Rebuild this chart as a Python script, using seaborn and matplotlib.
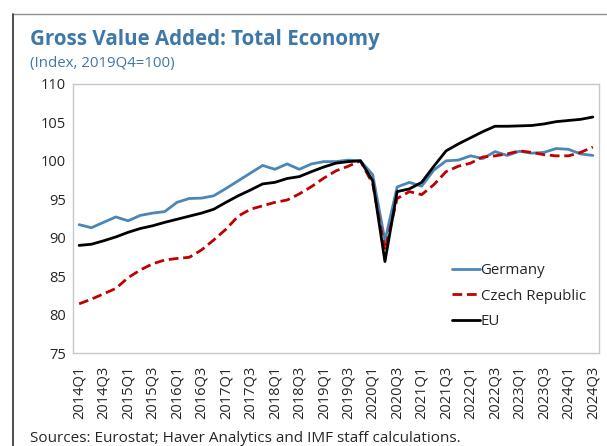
import pandas as pd
import seaborn as sns
import matplotlib.pyplot as plt
from matplotlib.lines import Line2D
from matplotlib.ticker import MultipleLocator

# Квартали 2014Q1 - 2024Q3
quarters = [f"{y}Q{q}" for y in range(2014, 2025) for q in range(1, 5)][:43]

germany = [91.7, 91.3, 92.0, 92.7, 92.2, 92.9, 93.2, 93.4, 94.6, 95.1, 95.15,
           95.45, 96.4, 97.4, 98.4, 99.4, 98.9, 99.6, 98.9, 99.6, 99.9, 99.9,
           100.1, 100.0, 98.2, 89.6, 96.6, 97.2, 96.7, 98.8, 100.0, 100.1,
           100.65, 100.3, 101.2, 100.7, 101.25, 101.0, 101.1, 101.6, 101.5,
           100.9, 100.7]
czech = [81.4, 82.0, 82.7, 83.4, 84.8, 85.8, 86.6, 87.1, 87.3, 87.45, 88.4,
         89.7, 91.1, 92.8, 93.7, 94.15, 94.6, 94.9, 95.7, 96.65, 97.75, 98.7,
         99.3, 100.0, 97.0, 88.4, 95.1, 96.0, 95.6, 96.9, 98.6, 99.3,
         99.7, 100.5, 100.65, 100.9, 101.3, 101.1, 100.8, 100.65, 100.65,
         101.1, 101.8]
eu = [89.0, 89.15, 89.6, 90.1, 90.7, 91.2, 91.55, 92.0, 92.4, 92.8, 93.2,
      93.7, 94.6, 95.45, 96.2, 97.0, 97.2, 97.7, 97.95, 98.6, 99.2, 99.7,
      99.9, 100.0, 97.4, 86.9, 96.0, 96.35, 97.2, 99.3, 101.3, 102.2,
      103.0, 103.8, 104.5, 104.5, 104.55, 104.6, 104.8, 105.1, 105.25,
      105.4, 105.7]

df = pd.DataFrame({'pos': range(len(quarters)), 'Germany': germany,
                   'Czech Republic': czech, 'EU': eu})

sns.set_style('white')
plt.rcParams['font.family'] = ['Open Sans', 'DejaVu Sans']

fig = plt.figure(figsize=(6.07, 4.46), dpi=100)
ax = fig.add_axes([0.1203, 0.2085, 0.8665, 0.6032])

sns.lineplot(data=df, x='pos', y='Germany', ax=ax, color='#4a86b8', lw=2.0, label='Germany')
sns.lineplot(data=df, x='pos', y='Czech Republic', ax=ax, color='#c00000', lw=2.0,
             label='Czech Republic')
ax.lines[1].set_dashes([3.5, 1.7])
sns.lineplot(data=df, x='pos', y='EU', ax=ax, color='black', lw=2.0, label='EU')

ax.set_xlim(-0.5, len(quarters) - 0.5)
ax.set_ylim(75, 110)
ax.yaxis.set_major_locator(MultipleLocator(5))
ax.set_xticks(range(0, len(quarters), 2))
ax.set_xticklabels(quarters[::2], rotation=90, fontsize=10.5)
ax.set_xticks([i + 0.5 for i in range(len(quarters) - 1)], minor=True)
ax.tick_params(axis='x', which='major', length=0, pad=9)
ax.tick_params(axis='x', which='minor', direction='in', length=5, color='#c8c8c8', width=0.8)
ax.tick_params(axis='y', direction='in', length=5, color='#c8c8c8', width=0.8,
               labelsize=10.5, pad=5)
ax.set_xlabel('')
ax.set_ylabel('')
for s in ax.spines.values():
    s.set_color('#c8c8c8')
    s.set_linewidth(1.0)

leg = ax.legend(loc='upper left', bbox_to_anchor=(0.695, 0.383), frameon=False,
                fontsize=10.8, handlelength=1.85, handletextpad=0.05, labelspacing=0.68)

fig.text(0.049, 0.9, 'Gross Value Added: Total Economy', fontsize=14.8,
         fontweight='bold', color='#3f78a8', va='baseline')
fig.text(0.049, 0.85, '(Index, 2019Q4=100)', fontsize=10.8, color='#3f78a8',
         va='baseline')
fig.text(0.049, 0.01, 'Sources: Eurostat; Haver Analytics and IMF staff calculations.',
         fontsize=11, va='baseline')

# рамка
fig.add_artist(Line2D([0.021, 1.0], [0.968, 0.968], color='#909090', lw=1.0))
fig.add_artist(Line2D([0.021, 0.021], [0.0, 0.968], color='#303030', lw=1.2))

fig.savefig('out.png', dpi=100)
